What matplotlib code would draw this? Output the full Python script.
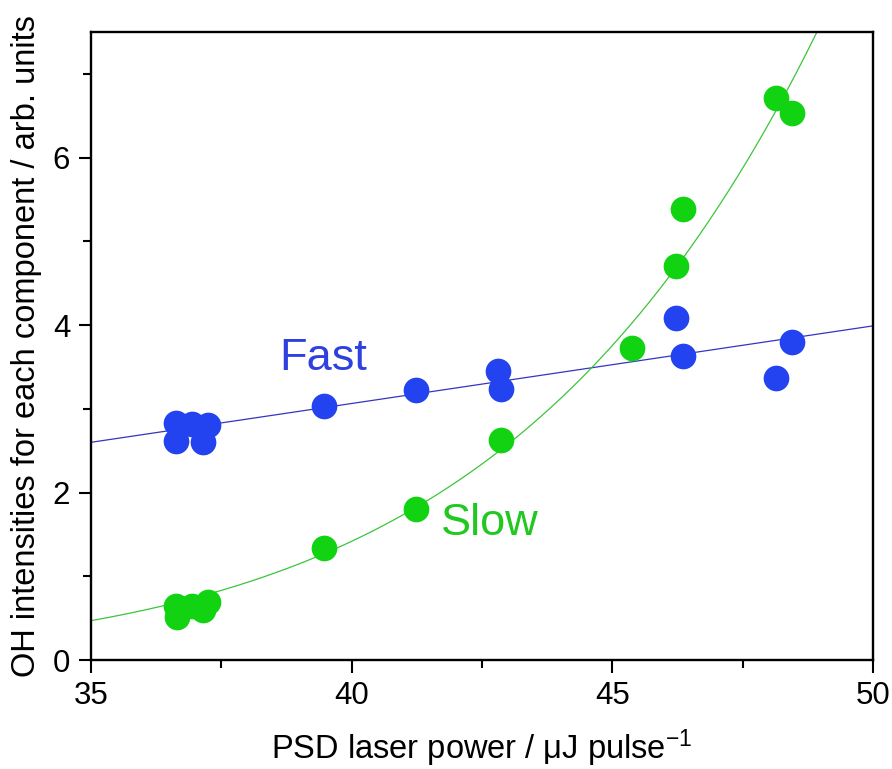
import numpy as np
import matplotlib
matplotlib.use("Agg")
import matplotlib.pyplot as plt
from matplotlib.ticker import MultipleLocator

plt.rcParams['font.family'] = ['Liberation Sans', 'DejaVu Sans']
plt.rcParams['mathtext.fontset'] = 'custom'
plt.rcParams['mathtext.rm'] = 'Liberation Sans'
plt.rcParams['mathtext.it'] = 'Liberation Sans'

# Data
fast_x = [36.63, 36.63, 36.94, 37.14, 37.25, 39.47, 41.23, 42.81, 42.86, 46.22, 46.36, 48.14, 48.44]
fast_y = [2.83, 2.61, 2.82, 2.60, 2.81, 3.03, 3.23, 3.45, 3.24, 4.08, 3.63, 3.37, 3.80]
slow_x = [36.63, 36.65, 36.93, 37.15, 37.25, 39.47, 41.23, 42.86, 45.37, 46.22, 46.36, 48.14, 48.44]
slow_y = [0.64, 0.51, 0.64, 0.60, 0.69, 1.34, 1.80, 2.63, 3.73, 4.70, 5.39, 6.71, 6.53]

# Fit parameters
fast_fit_intercept_35 = 2.60
fast_fit_slope = 0.0927
slow_fit_value_35 = 0.47
slow_fit_power = 8.27

x_ticks = [35, 40, 45, 50]
y_ticks = [0, 2, 4, 6]

fig = plt.figure(figsize=(8.92, 7.69), dpi=100)
ax = fig.add_axes([0.102, 0.1417, 0.8767, 0.8167])

xf = np.linspace(35, 50, 300)
ax.plot(xf, fast_fit_intercept_35 + fast_fit_slope * (xf - 35), color='#3535c0', lw=0.9, zorder=1)
xs = np.linspace(35, 50, 400)
ys = slow_fit_value_35 * (xs / 35.0) ** slow_fit_power
ax.plot(xs, ys, color='#3cc43c', lw=0.9, zorder=1)

ax.plot(fast_x, fast_y, 'o', ms=18.5, color='#2342f0', mew=0, zorder=2)
ax.plot(slow_x, slow_y, 'o', ms=18.5, color='#12d312', mew=0, zorder=3)

ax.text(39.46, 3.463, 'Fast', color='#3040e0', fontsize=32.5, ha='center', va='baseline')
ax.text(42.65, 1.49, 'Slow', color='#20c820', fontsize=32.5, ha='center', va='baseline')

ax.set_xlim(35, 50)
ax.set_ylim(0, 7.5)
ax.set_xticks(x_ticks)
ax.set_yticks(y_ticks)
ax.xaxis.set_minor_locator(MultipleLocator(2.5))
ax.yaxis.set_minor_locator(MultipleLocator(1))
ax.tick_params(which='both', direction='out', top=False, right=False, width=1.5, labelsize=22.5)
ax.tick_params(which='major', length=9, pad=6)
ax.tick_params(which='minor', length=5.5)
for s in ax.spines.values():
    s.set_linewidth(1.7)

ax.set_xlabel('PSD laser power / μJ pulse$^{-1}$', fontsize=23.5, va='baseline')
ax.xaxis.set_label_coords(0.5, -0.158)
ax.set_ylabel('OH intensities for each component / arb. units', fontsize=23.5, ha='center', va='center')
ax.yaxis.set_label_coords(-0.082, 0.5)

fig.savefig('out.png', dpi=100)
